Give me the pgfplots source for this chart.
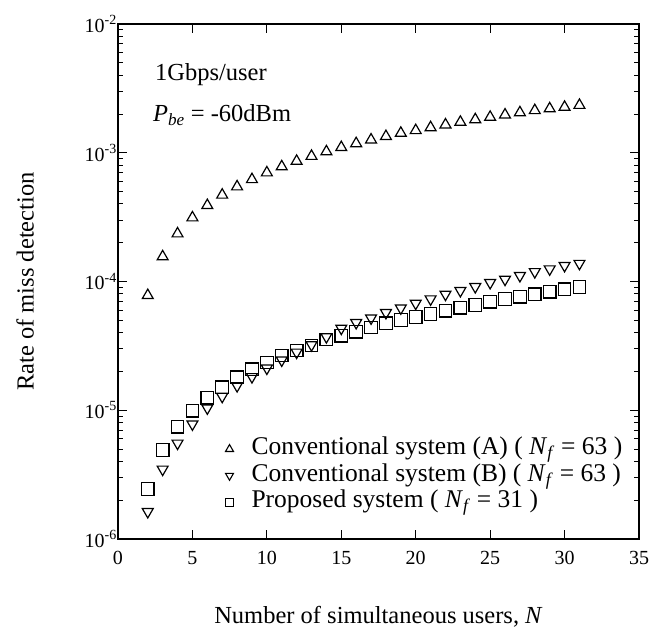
\documentclass[border=0pt]{standalone}
\usepackage{fontspec}
\setmainfont{Liberation Serif}
\usepackage{pgfplots}
\pgfplotsset{compat=1.18}
\begin{document}
\begin{tikzpicture}
\path[use as bounding box] (-118bp,-89bp) rectangle (548bp,539bp);
\begin{axis}[
  at={(0,0)}, anchor=south west,
  scale only axis, width=521bp, height=515bp,
  xmin=0, xmax=35, ymin=1e-6, ymax=1e-2,
  ymode=log,
  xtick={0,5,...,35},
  ytick={1e-6,1e-5,1e-4,1e-3,1e-2},
  yticklabels={10\textsuperscript{-6},10\textsuperscript{-5},10\textsuperscript{-4},10\textsuperscript{-3},10\textsuperscript{-2}},
  minor ytick={2e-6,3e-6,4e-6,5e-6,6e-6,7e-6,8e-6,9e-6,
               2e-5,3e-5,4e-5,5e-5,6e-5,7e-5,8e-5,9e-5,
               2e-4,3e-4,4e-4,5e-4,6e-4,7e-4,8e-4,9e-4,
               2e-3,3e-3,4e-3,5e-3,6e-3,7e-3,8e-3,9e-3},
  tick align=inside,
  major tick length=9bp, minor tick length=5bp,
  axis line style={line width=1.3bp},
  every tick/.style={line width=1bp, black},
  /pgf/number format/assume math mode=true,
  ticklabel style={font=\fontsize{20bp}{23bp}\selectfont},
  xticklabel style={yshift=-9bp},
  yticklabel style={inner xsep=1bp},
  xlabel={Number of simultaneous users, \textit{N}},
  ylabel={Rate of miss detection},
  label style={font=\fontsize{24.5bp}{28bp}\selectfont},
  xlabel style={at={([yshift=-78bp]axis description cs:0.5,0)}, anchor=center},
  ylabel style={at={([xshift=-93bp]axis description cs:0,0.5)}, anchor=center},
  legend style={at={(rel axis cs:0.206,0.123)}, anchor=west, draw=none, fill=none,
    font=\fontsize{25.5bp}{28bp}\selectfont, inner sep=0pt, row sep=0bp, column sep=16bp,
    nodes={inner ysep=2bp, text depth=5.5bp, text height=17bp}},
  legend cell align=left,
  legend image code/.code={\draw[#1] plot coordinates {(0bp,0bp)};},
]
\addplot[forget plot, only marks, mark=triangle, mark size=6.3bp, mark options={line width=1.2bp, fill=white}] coordinates {
(2,7.8e-5) (3,1.56e-4) (4,2.35e-4) (5,3.13e-4) (6,3.9e-4) (7,4.7e-4) (8,5.45e-4)
(9,6.2e-4) (10,7.0e-4) (11,7.8e-4) (12,8.6e-4) (13,9.4e-4) (14,1.02e-3) (15,1.1e-3)
(16,1.18e-3) (17,1.26e-3) (18,1.34e-3) (19,1.42e-3) (20,1.49e-3) (21,1.57e-3)
(22,1.65e-3) (23,1.73e-3) (24,1.81e-3) (25,1.89e-3) (26,1.97e-3) (27,2.05e-3)
(28,2.13e-3) (29,2.2e-3) (30,2.26e-3) (31,2.34e-3)};
\addplot[forget plot, only marks, mark=triangle, mark size=6.3bp, mark options={rotate=180, line width=1.2bp, fill=white}] coordinates {
(2,1.63e-6) (3,3.48e-6) (4,5.54e-6) (5,7.81e-6) (6,1.04e-5) (7,1.28e-5) (8,1.55e-5)
(9,1.82e-5) (10,2.12e-5) (11,2.45e-5) (12,2.82e-5) (13,3.22e-5) (14,3.72e-5) (15,4.33e-5)
(16,4.79e-5) (17,5.2e-5) (18,5.73e-5) (19,6.22e-5) (20,6.77e-5) (21,7.31e-5)
(22,7.95e-5) (23,8.49e-5) (24,9.11e-5) (25,9.8e-5) (26,1.04e-4) (27,1.11e-4)
(28,1.19e-4) (29,1.25e-4) (30,1.33e-4) (31,1.38e-4)};
\addplot[forget plot, only marks, mark=square, mark size=6.3bp, mark options={line width=1.2bp, fill=white}] coordinates {
(2,2.44e-6) (3,4.91e-6) (4,7.45e-6) (5,9.93e-6) (6,1.25e-5) (7,1.51e-5) (8,1.8e-5)
(9,2.08e-5) (10,2.35e-5) (11,2.66e-5) (12,2.91e-5) (13,3.19e-5) (14,3.55e-5) (15,3.79e-5)
(16,4.07e-5) (17,4.4e-5) (18,4.73e-5) (19,5.02e-5) (20,5.3e-5) (21,5.6e-5)
(22,5.93e-5) (23,6.26e-5) (24,6.57e-5) (25,6.97e-5) (26,7.31e-5) (27,7.62e-5)
(28,7.95e-5) (29,8.34e-5) (30,8.69e-5) (31,9.06e-5)};
\addlegendimage{only marks, mark=triangle, mark size=4.6bp, mark options={line width=1.1bp}}
\addlegendentry{Conventional system (A) ( \textit{N}\textsubscript{\textit{f}} = 63 )}
\addlegendimage{only marks, mark=triangle, mark size=4.6bp, mark options={rotate=180, line width=1.1bp}}
\addlegendentry{Conventional system (B) ( \textit{N}\textsubscript{\textit{f}} = 63 )}
\addlegendimage{only marks, mark=square, mark size=4bp, mark options={line width=1.1bp}}
\addlegendentry{Proposed system ( \textit{N}\textsubscript{\textit{f}} = 31 )}
\node[anchor=west, inner sep=0pt, font=\fontsize{24.5bp}{28bp}\selectfont] at (rel axis cs:0.071,0.901) {1Gbps/user};
\node[anchor=west, inner sep=0pt, font=\fontsize{24.5bp}{28bp}\selectfont] at (rel axis cs:0.067,0.823) {\textit{P}\textsubscript{\textit{be}} = -60dBm};
\end{axis}
\end{tikzpicture}
\end{document}
